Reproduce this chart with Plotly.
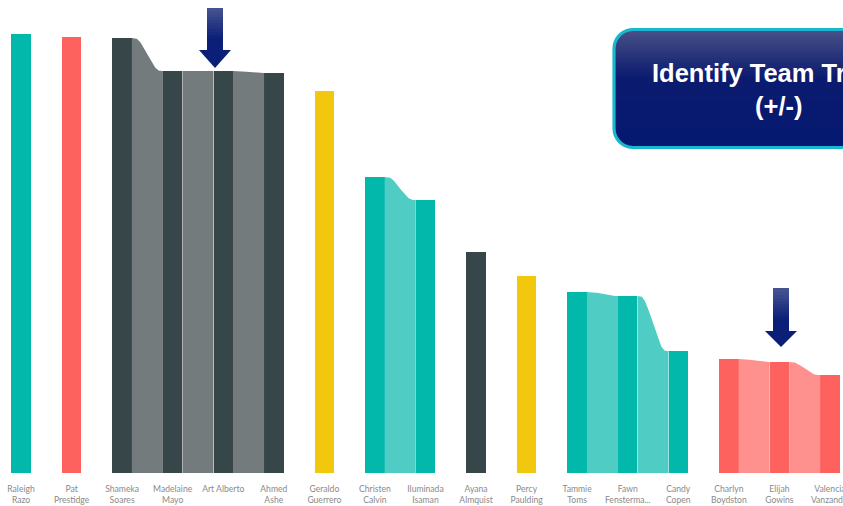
import numpy as np
import plotly.graph_objects as go

# ---------------- data ----------------
names = ["Raleigh<br>Razo", "Pat<br>Prestidge", "Shameka<br>Soares", "Madelaine<br>Mayo",
         "Art Alberto", "Ahmed<br>Ashe", "Geraldo<br>Guerrero", "Christen<br>Calvin",
         "Iluminada<br>Isaman", "Ayana<br>Almquist", "Percy<br>Paulding", "Tammie<br>Toms",
         "Fawn<br>Fensterma...", "Candy<br>Copen", "Charlyn<br>Boydston", "Elijah<br>Gowins",
         "Valencia<br>Vanzand..."]
values = [43.9, 43.6, 43.5, 40.2, 40.2, 40.0, 38.2, 29.6, 27.3, 22.1, 19.7, 18.1, 17.7,
          12.2, 11.4, 11.1, 9.8]
groups = [0, 1, 2, 2, 2, 2, 3, 4, 4, 5, 6, 7, 7, 7, 8, 8, 8]
teams = ["teal", "red", "dark", "dark", "dark", "dark", "yellow", "teal", "teal", "dark",
         "yellow", "teal", "teal", "teal", "red", "red", "red"]

bar_col = {"teal": "#01B8AA", "red": "#FD625E", "dark": "#374649", "yellow": "#F2C80F"}
rib_col = {"teal": "#4FCDC4", "red": "#FE918E", "dark": "#737B7C", "yellow": "#F7D95A"}

W, H = 843, 506
E = 843
BOT = 33
PH = H - BOT
BW = 0.385
SP = 50.56         # pixel spacing of categories

fig = go.Figure()

for i in range(len(values) - 1):
    if groups[i] != groups[i + 1]:
        continue
    x0 = i + BW / 2
    x1 = i + 1 - BW / 2
    t = np.linspace(0, 1, 60)
    tt = np.clip((t - 0.08) / 0.84, 0, 1)
    s = tt * tt * (3 - 2 * tt)
    xs = x0 + (x1 - x0) * t
    ys = values[i] + (values[i + 1] - values[i]) * s
    px = list(xs) + [x1, x0]
    py = list(ys) + [0, 0]
    fig.add_trace(go.Scatter(x=px, y=py, fill="toself", mode="lines",
                             line=dict(width=0, color=rib_col[teams[i]]),
                             fillcolor=rib_col[teams[i]], hoverinfo="skip",
                             showlegend=False))

fig.add_trace(go.Bar(x=list(range(len(values))), y=values, width=BW,
                     marker=dict(color=[bar_col[t] for t in teams], line=dict(width=0)),
                     showlegend=False))


def P(x, y):
    return x / E, (PH - y) / PH


shapes = []


def arrow(cx, ytop, yhead, ytip, shaft_w=16, head_w=32):
    n = 14
    c_top = np.array([0x48, 0x54, 0x92])
    c_bot = np.array([0x0B, 0x1E, 0x78])
    for k in range(n):
        ya = ytop + (yhead - ytop) * k / n
        yb = ytop + (yhead - ytop) * (k + 1) / n + 0.6
        f = min(1.0, (k + 0.5) / n / 0.75)
        c = c_top + (c_bot - c_top) * f
        col = "rgb(%d,%d,%d)" % tuple(c.astype(int))
        a = P(cx - shaft_w / 2, ya)
        b = P(cx + shaft_w / 2, min(yb, yhead + 0.5))
        shapes.append(dict(type="rect", xref="paper", yref="paper", x0=a[0], y0=a[1],
                           x1=b[0], y1=b[1], fillcolor=col, line=dict(width=0), layer="above"))
    p1 = P(cx - head_w / 2, yhead)
    p2 = P(cx + head_w / 2, yhead)
    p3 = P(cx, ytip)
    shapes.append(dict(type="path", xref="paper", yref="paper",
                       path="M %f %f L %f %f L %f %f Z" % (p1[0], p1[1], p2[0], p2[1], p3[0], p3[1]),
                       fillcolor="#0B1E78", line=dict(width=0), layer="above"))


arrow(215, 8, 50, 68)
arrow(781, 288, 331, 347)

# title box with gradient
bx0, by0, bx1, by1, r = 614, 29.5, 944, 147.5, 19
ctop = np.array([0x4A, 0x52, 0x88])
cmid = np.array([0x0C, 0x1C, 0x70])
cbot = np.array([0x05, 0x19, 0x70])
ys = np.arange(by0, by1, 2.0)
for y in ys:
    ym = y + 1.0
    if ym < by0 + r:
        dy = by0 + r - ym
        dx = r - np.sqrt(max(r * r - dy * dy, 0))
    elif ym > by1 - r:
        dy = ym - (by1 - r)
        dx = r - np.sqrt(max(r * r - dy * dy, 0))
    else:
        dx = 0
    f = (ym - by0) / 48.0
    if f <= 1:
        c = ctop + (cmid - ctop) * f
    else:
        c = cmid + (cbot - cmid) * min(1, (f - 1) / 1.5)
    col = "rgb(%d,%d,%d)" % tuple(c.astype(int))
    a = P(bx0 + dx, y)
    b = P(bx1 - dx, min(y + 2.6, by1))
    shapes.append(dict(type="rect", xref="paper", yref="paper", x0=a[0], y0=a[1],
                       x1=b[0], y1=b[1], fillcolor=col, line=dict(width=0), layer="above"))


def rr_path(x0, y0, x1, y1, r):
    pts = []
    for cx, cy, a0 in [(x1 - r, y0 + r, -90), (x1 - r, y1 - r, 0), (x0 + r, y1 - r, 90), (x0 + r, y0 + r, 180)]:
        for a in np.linspace(a0, a0 + 90, 10):
            pts.append(P(cx + r * np.cos(np.radians(a)), cy + r * np.sin(np.radians(a))))
    return "M " + " L ".join("%f %f" % p for p in pts) + " Z"


shapes.append(dict(type="path", xref="paper", yref="paper", path=rr_path(bx0, by0, bx1, by1, r),
                   line=dict(color="#1AB8D0", width=3.2), fillcolor="rgba(0,0,0,0)", layer="above"))

tx, _ = P(778, 0)
annotations = [
    dict(text="<b>Identify Team Trends</b>", xref="paper", yref="paper", x=tx, y=P(0, 73)[1],
         xanchor="center", yanchor="middle", showarrow=False,
         font=dict(family="Arial, Liberation Sans", size=25.5, color="white")),
    dict(text="<b>(+/-)</b>", xref="paper", yref="paper", x=tx, y=P(0, 106)[1],
         xanchor="center", yanchor="middle", showarrow=False,
         font=dict(family="Arial, Liberation Sans", size=25.5, color="white")),
]

x_left = -21 / SP
x_right = x_left + E / SP

fig.update_layout(
    width=W, height=H,
    margin=dict(l=0, r=0, t=0, b=BOT, autoexpand=False),
    paper_bgcolor="white", plot_bgcolor="white",
    bargap=0,
    shapes=shapes, annotations=annotations,
    xaxis=dict(range=[x_left, x_right], tickmode="array", tickvals=list(range(len(names))),
               ticktext=names, showgrid=False, zeroline=False, showline=False, ticks="",
               ticklabelstandoff=9, automargin=False,
               tickfont=dict(family="Segoe UI, Lato, sans-serif", size=8.6, color="#8A8A8A"),
               ticklabeloverflow="allow", fixedrange=True),
    yaxis=dict(range=[0, PH / 10], visible=False, showgrid=False, zeroline=False,
               automargin=False),
)

fig.write_html("out.html")
